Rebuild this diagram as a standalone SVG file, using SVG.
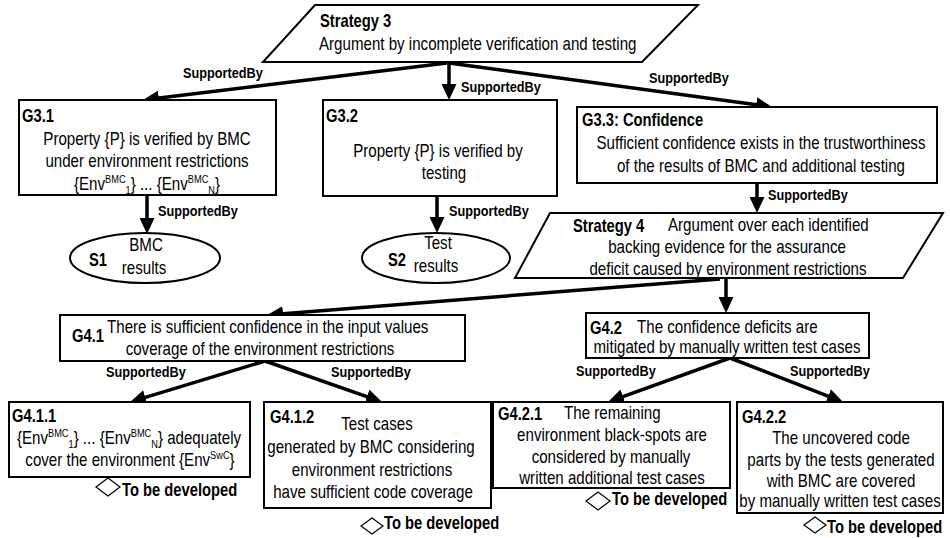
<svg xmlns="http://www.w3.org/2000/svg" width="950" height="538" viewBox="0 0 950 538">
<defs>
<marker id="ah" markerUnits="userSpaceOnUse" markerWidth="16" markerHeight="15" refX="6" refY="7.5" orient="auto" viewBox="0 0 16 15">
<path d="M0,0 L16,7.5 L0,15 z" fill="#000"/>
</marker>
<style>
text{font-family:"Liberation Sans",Arial,sans-serif;font-size:18px;fill:#000}
.b{font-weight:bold}
.c{text-anchor:middle}
.sb{font-weight:bold;font-size:15.5px}
.box{fill:#fff;stroke:#000;stroke-width:2}
.arr{stroke:#000;stroke-width:3.5;fill:none;marker-end:url(#ah)}
.dm{fill:#fff;stroke:#000;stroke-width:1.2}
.s{font-size:11px}
</style>
</defs>
<rect width="950" height="538" fill="#fff"/>

<g id="connectors">
<line class="arr" x1="447" y1="63" x2="152.9" y2="98.8"/>
<line class="arr" x1="449" y1="63" x2="449" y2="90"/>
<line class="arr" x1="449" y1="63" x2="762.1" y2="105.6"/>
<line class="arr" x1="147" y1="195" x2="147" y2="224"/>
<line class="arr" x1="437" y1="196" x2="437" y2="223"/>
<line class="arr" x1="757" y1="183" x2="757" y2="203"/>
<line class="arr" x1="720" y1="279" x2="277" y2="314.2"/>
<line class="arr" x1="726" y1="279" x2="726" y2="303"/>
<line class="arr" x1="265" y1="361" x2="139.6" y2="399.1"/>
<line class="arr" x1="265" y1="361" x2="372.6" y2="398.7"/>
<line class="arr" x1="730" y1="358" x2="617.4" y2="398.6"/>
<line class="arr" x1="730" y1="358" x2="833.7" y2="398.4"/>
<text class="sb" transform="translate(183) scale(.82 1)" y="78">SupportedBy</text>
<text class="sb" transform="translate(461) scale(.82 1)" y="92">SupportedBy</text>
<text class="sb" transform="translate(649) scale(.82 1)" y="83">SupportedBy</text>
<text class="sb" transform="translate(158) scale(.82 1)" y="216">SupportedBy</text>
<text class="sb" transform="translate(449) scale(.82 1)" y="216">SupportedBy</text>
<text class="sb" transform="translate(768) scale(.82 1)" y="200">SupportedBy</text>
<text class="sb" transform="translate(106) scale(.82 1)" y="377">SupportedBy</text>
<text class="sb" transform="translate(331) scale(.82 1)" y="377">SupportedBy</text>
<text class="sb" transform="translate(576) scale(.82 1)" y="376">SupportedBy</text>
<text class="sb" transform="translate(790) scale(.82 1)" y="376">SupportedBy</text>
</g>

<g id="strategy3">
<polygon class="box" points="315,5 698,5 642,62 263,62"/>
<text class="b" transform="translate(320) scale(.82 1)" y="27">Strategy 3</text>
<text transform="translate(319) scale(.84 1)" y="50">Argument by incomplete verification and testing</text>
</g>

<g id="G3.1">
<rect class="box" x="19" y="100" width="257" height="95"/>
<text class="b" transform="translate(22) scale(.82 1)" y="122">G3.1</text>
<text class="c" transform="translate(147) scale(.84 1)" y="145.5">Property {P} is verified by BMC</text>
<text class="c" transform="translate(147) scale(.84 1)" y="167.5">under environment restrictions</text>
<text class="c" transform="translate(147) scale(.84 1)" y="190">{Env<tspan class="s" dy="-7">BMC</tspan><tspan class="s" dy="11">1</tspan><tspan dy="-4">} ... {Env</tspan><tspan class="s" dy="-7">BMC</tspan><tspan class="s" dy="11">N</tspan><tspan dy="-4">}</tspan></text>
</g>

<g id="G3.2">
<rect class="box" x="323" y="100" width="234" height="96"/>
<text class="b" transform="translate(326) scale(.82 1)" y="122">G3.2</text>
<text class="c" transform="translate(438) scale(.84 1)" y="157">Property {P} is verified by</text>
<text class="c" transform="translate(444) scale(.84 1)" y="179">testing</text>
</g>

<g id="G3.3">
<rect class="box" x="577" y="107" width="360" height="76"/>
<text class="b" transform="translate(582) scale(.82 1)" y="126">G3.3: Confidence</text>
<text class="c" transform="translate(761) scale(.84 1)" y="149">Sufficient confidence exists in the trustworthiness</text>
<text class="c" transform="translate(761) scale(.84 1)" y="172">of the results of BMC and additional testing</text>
</g>

<g id="S1">
<ellipse class="box" cx="145" cy="258" rx="75" ry="25"/>
<text class="b" transform="translate(89) scale(.82 1)" y="266">S1</text>
<text class="c" transform="translate(146) scale(.84 1)" y="251">BMC</text>
<text class="c" transform="translate(144) scale(.84 1)" y="274">results</text>
</g>

<g id="S2">
<ellipse class="box" cx="436" cy="258" rx="74" ry="25"/>
<text class="b" transform="translate(388) scale(.82 1)" y="266">S2</text>
<text class="c" transform="translate(438) scale(.84 1)" y="249">Test</text>
<text class="c" transform="translate(436) scale(.84 1)" y="272">results</text>
</g>

<g id="strategy4">
<polygon class="box" points="550,213 943,213 903,278 515,278"/>
<text class="b" transform="translate(573) scale(.82 1)" y="232">Strategy 4</text>
<text transform="translate(668) scale(.84 1)" y="231">Argument over each identified</text>
<text class="c" transform="translate(727) scale(.84 1)" y="253">backing evidence for the assurance</text>
<text class="c" transform="translate(728) scale(.84 1)" y="275">deficit caused by environment restrictions</text>
</g>

<g id="G4.1">
<rect class="box" x="60" y="315" width="405" height="46"/>
<text class="b" transform="translate(72) scale(.82 1)" y="342">G4.1</text>
<text transform="translate(107) scale(.84 1)" y="333">There is sufficient confidence in the input values</text>
<text class="c" transform="translate(260) scale(.84 1)" y="355">coverage of the environment restrictions</text>
</g>

<g id="G4.2">
<rect class="box" x="586" y="313" width="283" height="45"/>
<text class="b" transform="translate(590) scale(.82 1)" y="334">G4.2</text>
<text transform="translate(637) scale(.84 1)" y="333">The confidence deficits are</text>
<text class="c" transform="translate(727) scale(.84 1)" y="353">mitigated by manually written test cases</text>
</g>

<g id="G4.1.1">
<rect class="box" x="9" y="402" width="241" height="75"/>
<text class="b" transform="translate(12) scale(.82 1)" y="422">G4.1.1</text>
<text class="c" transform="translate(129) scale(.84 1)" y="444">{Env<tspan class="s" dy="-7">BMC</tspan><tspan class="s" dy="11">1</tspan><tspan dy="-4">} ... {Env</tspan><tspan class="s" dy="-7">BMC</tspan><tspan class="s" dy="11">N</tspan><tspan dy="-4">} adequately</tspan></text>
<text class="c" transform="translate(130) scale(.84 1)" y="466">cover the environment {Env<tspan class="s" dy="-7">SwC</tspan><tspan dy="7">}</tspan></text>
<polygon class="dm" points="96,487 108,478 120,487 108,496"/>
<text class="b" transform="translate(122) scale(.82 1)" y="496">To be developed</text>
</g>

<g id="G4.1.2">
<rect class="box" x="264" y="402" width="227" height="106"/>
<text class="b" transform="translate(270) scale(.82 1)" y="423">G4.1.2</text>
<text class="c" transform="translate(377) scale(.84 1)" y="430">Test cases</text>
<text class="c" transform="translate(371) scale(.84 1)" y="453">generated by BMC considering</text>
<text class="c" transform="translate(372) scale(.84 1)" y="476">environment restrictions</text>
<text class="c" transform="translate(373) scale(.84 1)" y="498">have sufficient code coverage</text>
<polygon class="dm" points="361,526 372,518 383,526 372,534"/>
<text class="b" transform="translate(384) scale(.82 1)" y="529">To be developed</text>
</g>

<g id="G4.2.1">
<rect class="box" x="493" y="402" width="237" height="86"/>
<text class="b" transform="translate(498) scale(.82 1)" y="420">G4.2.1</text>
<text transform="translate(564) scale(.84 1)" y="419">The remaining</text>
<text class="c" transform="translate(612) scale(.84 1)" y="441">environment black-spots are</text>
<text class="c" transform="translate(611) scale(.84 1)" y="463">considered by manually</text>
<text class="c" transform="translate(612) scale(.84 1)" y="484">written additional test cases</text>
<polygon class="dm" points="586,501 598,492 610,501 598,510"/>
<text class="b" transform="translate(612) scale(.82 1)" y="505">To be developed</text>
</g>

<g id="G4.2.2">
<rect class="box" x="737" y="402" width="206" height="111"/>
<text class="b" transform="translate(742) scale(.82 1)" y="423">G4.2.2</text>
<text class="c" transform="translate(841) scale(.84 1)" y="444">The uncovered code</text>
<text class="c" transform="translate(841) scale(.84 1)" y="466">parts by the tests generated</text>
<text class="c" transform="translate(841) scale(.84 1)" y="487">with BMC are covered</text>
<text class="c" transform="translate(840) scale(.84 1)" y="507">by manually written test cases</text>
<polygon class="dm" points="804,525 815,517 826,525 815,533"/>
<text class="b" transform="translate(827) scale(.82 1)" y="533">To be developed</text>
</g>
</svg>
